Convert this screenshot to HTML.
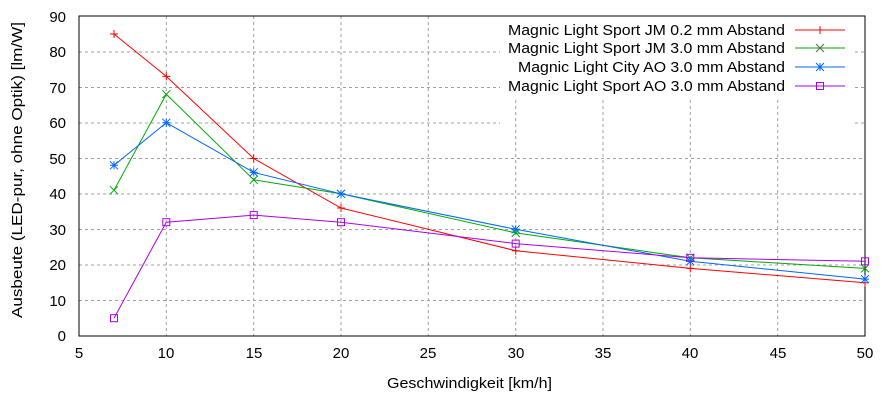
<!DOCTYPE html><html><head><style>body{margin:0;background:#fff}svg{display:block}text{font-family:"Liberation Sans",sans-serif;font-size:15px;fill:#000}</style></head><body>
<svg width="882" height="401" xmlns="http://www.w3.org/2000/svg">
<g stroke="#a0a0a0" stroke-dasharray="3,3" stroke-width="1">
<line x1="79" x2="865" y1="300.5" y2="300.5"/><line x1="79" x2="865" y1="265" y2="265"/><line x1="79" x2="865" y1="229.5" y2="229.5"/><line x1="79" x2="865" y1="194" y2="194"/><line x1="79" x2="865" y1="158.5" y2="158.5"/><line x1="79" x2="500" y1="123" y2="123"/><line x1="79" x2="500" y1="87.5" y2="87.5"/><line x1="79" x2="500" y1="52" y2="52"/>
<line x1="855" x2="865" y1="123" y2="123"/><line x1="855" x2="865" y1="87.5" y2="87.5"/><line x1="855" x2="865" y1="52" y2="52"/>
<line x1="166.3" x2="166.3" y1="16" y2="336"/><line x1="253.7" x2="253.7" y1="16" y2="336"/><line x1="341" x2="341" y1="16" y2="336"/><line x1="428.3" x2="428.3" y1="16" y2="336"/><line x1="515.7" x2="515.7" y1="100" y2="336"/><line x1="603" x2="603" y1="100" y2="336"/><line x1="690.3" x2="690.3" y1="100" y2="336"/><line x1="777.7" x2="777.7" y1="100" y2="336"/>
</g>
<rect x="79" y="16" width="786" height="320" fill="none" stroke="#000"/>
<g text-anchor="end"><text x="66" y="341">0</text><text x="66" y="306">10</text><text x="66" y="270">20</text><text x="66" y="235">30</text><text x="66" y="199">40</text><text x="66" y="164">50</text><text x="66" y="128">60</text><text x="66" y="93">70</text><text x="66" y="57">80</text><text x="66" y="22">90</text></g>
<g text-anchor="middle"><text x="79" y="358">5</text><text x="166" y="358">10</text><text x="254" y="358">15</text><text x="341" y="358">20</text><text x="428" y="358">25</text><text x="516" y="358">30</text><text x="603" y="358">35</text><text x="690" y="358">40</text><text x="778" y="358">45</text><text x="865" y="358">50</text></g>
<text x="387" y="388" textLength="165" lengthAdjust="spacingAndGlyphs">Geschwindigkeit [km/h]</text>
<text transform="translate(22,318) rotate(-90)" textLength="296" lengthAdjust="spacingAndGlyphs">Ausbeute (LED-pur, ohne Optik) [lm/W]</text>
<text x="508" y="35" textLength="277" lengthAdjust="spacingAndGlyphs">Magnic Light Sport JM 0.2 mm Abstand</text>
<text x="508" y="53" textLength="277" lengthAdjust="spacingAndGlyphs">Magnic Light Sport JM 3.0 mm Abstand</text>
<text x="518" y="72" textLength="267" lengthAdjust="spacingAndGlyphs">Magnic Light City AO 3.0 mm Abstand</text>
<text x="508" y="91" textLength="277" lengthAdjust="spacingAndGlyphs">Magnic Light Sport AO 3.0 mm Abstand</text>
<g fill="none" stroke-width="1">
<polyline stroke="#f00" points="114,34 166.3,76.4 253.7,158.5 341,208 515.7,250.7 690.3,268.4 865,282.7"/>
<polyline stroke="#0a0" points="114,190.2 166.3,94.2 253.7,179.8 341,193.8 515.7,232.9 690.3,257.8 865,268.4"/>
<polyline stroke="#06f" points="114,165.3 166.3,122.7 253.7,172.4 341,193.8 515.7,229.3 690.3,261.3 865,279.1"/>
<polyline stroke="#a0e" points="114,318.2 166.3,222.2 253.7,215.1 341,222.2 515.7,243.6 690.3,257.8 865,261.3"/>
<line x1="795" x2="845" y1="30" y2="30" stroke="#f00"/><line x1="795" x2="845" y1="48" y2="48" stroke="#0a0"/><line x1="795" x2="845" y1="67" y2="67" stroke="#06f"/><line x1="795" x2="845" y1="86" y2="86" stroke="#a0e"/>
</g>
<g stroke="#f00"><path d="M110,34h8M114,30v8M162.3,76.4h8M166.3,72.4v8M249.7,158.5h8M253.7,154.5v8M337,208h8M341,204v8M511.7,250.7h8M515.7,246.7v8M686.3,268.4h8M690.3,264.4v8M861,282.7h8M865,278.7v8M816,30h8M820,26v8"/></g>
<g stroke="#0a0"><path d="M110,186.2l8,8m0,-8l-8,8M162.3,90.2l8,8m0,-8l-8,8M249.7,175.8l8,8m0,-8l-8,8M337,189.8l8,8m0,-8l-8,8M511.7,228.9l8,8m0,-8l-8,8M686.3,253.8l8,8m0,-8l-8,8M861,264.4l8,8m0,-8l-8,8"/></g>
<g stroke="#666"><path d="M816,44l8,8m0,-8l-8,8"/></g>
<g stroke="#06f"><path d="M110,161.3l8,8m0,-8l-8,8M110,165.3h8M114,161.3v8M162.3,118.7l8,8m0,-8l-8,8M162.3,122.7h8M166.3,118.7v8M249.7,168.4l8,8m0,-8l-8,8M249.7,172.4h8M253.7,168.4v8M337,189.8l8,8m0,-8l-8,8M337,193.8h8M341,189.8v8M511.7,225.3l8,8m0,-8l-8,8M511.7,229.3h8M515.7,225.3v8M686.3,257.3l8,8m0,-8l-8,8M686.3,261.3h8M690.3,257.3v8M861,275.1l8,8m0,-8l-8,8M861,279.1h8M865,275.1v8M816,63l8,8m0,-8l-8,8M816,67h8M820,63v8"/></g>
<g stroke="#a0e" fill="none"><rect x="110.5" y="314.7" width="7" height="7"/><rect x="162.8" y="218.7" width="7" height="7"/><rect x="250.2" y="211.6" width="7" height="7"/><rect x="337.5" y="218.7" width="7" height="7"/><rect x="512.2" y="240.1" width="7" height="7"/><rect x="686.8" y="254.3" width="7" height="7"/><rect x="861.5" y="257.8" width="7" height="7"/><rect x="816.5" y="82.5" width="7" height="7"/></g>
</svg></body></html>
